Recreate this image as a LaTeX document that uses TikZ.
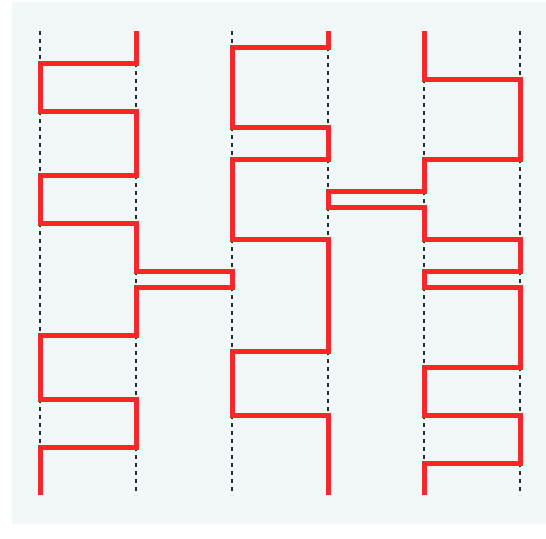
\documentclass[tikz,border=0pt]{standalone}
\usepackage{tikz}
\definecolor{wirered}{RGB}{244,39,42}
\definecolor{panelbg}{RGB}{242,247,250}
\definecolor{guidegray}{RGB}{40,44,48}
\begin{document}
\begin{tikzpicture}[x=16pt, y=-16pt]
    \tikzset{
      wire/.style={draw=wirered, line width=5pt, line join=miter, line cap=butt},
      guide/.style={draw=guidegray, line width=1.2pt, dash pattern=on 4pt off 4pt},
      panel/.style={fill=panelbg},
    }
    \useasboundingbox (-2.5,-1.9375) rectangle (31.625,31.6875);
    \fill[panel] (-1.75,-1.8125) rectangle (31.625,30.8125);
    % ===== guides =====
    \foreach \c in {0,...,5}{
      \draw[guide] (6*\c,0) -- (6*\c,29);
    }
    % ===== wire 1 =====
    \draw[wire] (6,0) -- (6,2) -- (0,2) -- (0,5) -- (6,5) -- (6,9) -- (0,9)
      -- (0,12) -- (6,12) -- (6,15) -- (12,15) -- (12,16) -- (6,16) -- (6,19)
      -- (0,19) -- (0,23) -- (6,23) -- (6,26) -- (0,26) -- (0,29);
    % ===== wire 2 =====
    \draw[wire] (18,0) -- (18,1) -- (12,1) -- (12,6) -- (18,6) -- (18,8)
      -- (12,8) -- (12,13) -- (18,13) -- (18,20) -- (12,20) -- (12,24)
      -- (18,24) -- (18,29);
    % ===== wire 3 =====
    \draw[wire] (24,0) -- (24,3) -- (30,3) -- (30,8) -- (24,8) -- (24,10)
      -- (18,10) -- (18,11) -- (24,11) -- (24,13) -- (30,13) -- (30,15)
      -- (24,15) -- (24,16) -- (30,16) -- (30,21) -- (24,21) -- (24,24)
      -- (30,24) -- (30,27) -- (24,27) -- (24,29);
  \end{tikzpicture}
\end{document}
